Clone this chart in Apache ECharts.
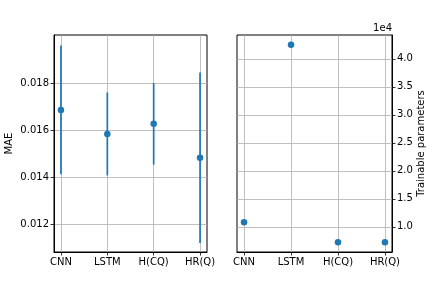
<!DOCTYPE html>
<html><head><meta charset="utf-8">
<script src="https://cdn.jsdelivr.net/npm/echarts@6/dist/echarts.min.js"></script>
<style>html,body{margin:0;padding:0;background:#fff}#c{width:432px;height:288px}</style>
</head><body><div id="c"></div>
<script>
const categories = ['CNN', 'LSTM', 'H(CQ)', 'HR(Q)'];
const maeMean = [0.01686, 0.01584, 0.01627, 0.01483];
const maeErr = [0.00273, 0.00176, 0.00173, 0.00362];
const params = [10850, 42490, 7280, 7280];
const maeTicks = [0.012, 0.014, 0.016, 0.018];
const paramTicks = [10000, 15000, 20000, 25000, 30000, 35000, 40000];

const font = 'DejaVu Sans';
const blue = '#1f77b4';
const idx = categories.map((c, i) => i);

function xAxisFor(gi) {
  return {
    type: 'value', gridIndex: gi, min: -0.15, max: 3.15,
    axisLine: { show: true, onZero: false, lineStyle: { color: '#000', width: 1 } },
    axisTick: { show: true, customValues: idx, length: 3.5, lineStyle: { color: '#000', width: 0.8 } },
    axisLabel: { customValues: idx, margin: 5, color: '#000', fontFamily: font, fontSize: 10,
      formatter: v => categories[Math.round(v)] },
    splitLine: { show: true, lineStyle: { color: '#b0b0b0', width: 0.8 } }
  };
}

const chart = echarts.init(document.getElementById('c'), null, { renderer: 'canvas' });
chart.setOption({
  animation: false,
  grid: [
    { left: 54, top: 35, width: 153, height: 217, show: true, borderColor: '#000', borderWidth: 1, containLabel: false },
    { left: 237, top: 35, width: 155, height: 217, show: true, borderColor: '#000', borderWidth: 1, containLabel: false }
  ],
  xAxis: [xAxisFor(0), xAxisFor(1)],
  yAxis: [
    {
      type: 'value', gridIndex: 0, min: 0.01083, max: 0.02004, scale: true,
      name: 'MAE', nameLocation: 'middle', nameGap: 40, nameRotate: 90,
      nameTextStyle: { color: '#000', fontFamily: font, fontSize: 10 },
      axisLine: { show: true, onZero: false, lineStyle: { color: '#000', width: 1 } },
      axisTick: { show: true, customValues: maeTicks, length: 3.5, lineStyle: { color: '#000', width: 0.8 } },
      axisLabel: { customValues: maeTicks, margin: 5, color: '#000', fontFamily: font, fontSize: 10,
        formatter: v => v.toFixed(3) },
      splitLine: { show: true, lineStyle: { color: '#b0b0b0', width: 0.8 } }
    },
    {
      type: 'value', gridIndex: 1, position: 'right', min: 5520, max: 44250, scale: true,
      name: 'Trainable parameters', nameLocation: 'middle', nameGap: 23, nameRotate: 90,
      nameTextStyle: { color: '#000', fontFamily: font, fontSize: 10 },
      axisLine: { show: true, onZero: false, lineStyle: { color: '#000', width: 1 } },
      axisTick: { show: true, customValues: paramTicks, length: 3.5, lineStyle: { color: '#000', width: 0.8 } },
      axisLabel: { customValues: paramTicks, margin: 5, color: '#000', fontFamily: font, fontSize: 10,
        formatter: v => (v / 1e4).toFixed(1) },
      splitLine: { show: true, lineStyle: { color: '#b0b0b0', width: 0.8 } }
    }
  ],
  graphic: [
    { type: 'text', right: 40, top: 23, style: { text: '1e4', fill: '#000', font: '10px "DejaVu Sans"' } }
  ],
  series: [
    {
      type: 'custom', xAxisIndex: 0, yAxisIndex: 0,
      data: idx.map(i => [i, maeMean[i] - maeErr[i], maeMean[i] + maeErr[i]]),
      renderItem: (params, api) => {
        const p1 = api.coord([api.value(0), api.value(1)]);
        const p2 = api.coord([api.value(0), api.value(2)]);
        return { type: 'line', shape: { x1: p1[0], y1: p1[1], x2: p2[0], y2: p2[1] },
          style: { stroke: blue, lineWidth: 1.7 } };
      },
      z: 3
    },
    {
      type: 'scatter', xAxisIndex: 0, yAxisIndex: 0, symbolSize: 6.5,
      itemStyle: { color: blue, opacity: 1 },
      data: idx.map(i => [i, maeMean[i]]), z: 4
    },
    {
      type: 'scatter', xAxisIndex: 1, yAxisIndex: 1, symbolSize: 6.5,
      itemStyle: { color: blue, opacity: 1 },
      data: idx.map(i => [i, params[i]]), z: 4
    }
  ]
});
</script></body></html>
